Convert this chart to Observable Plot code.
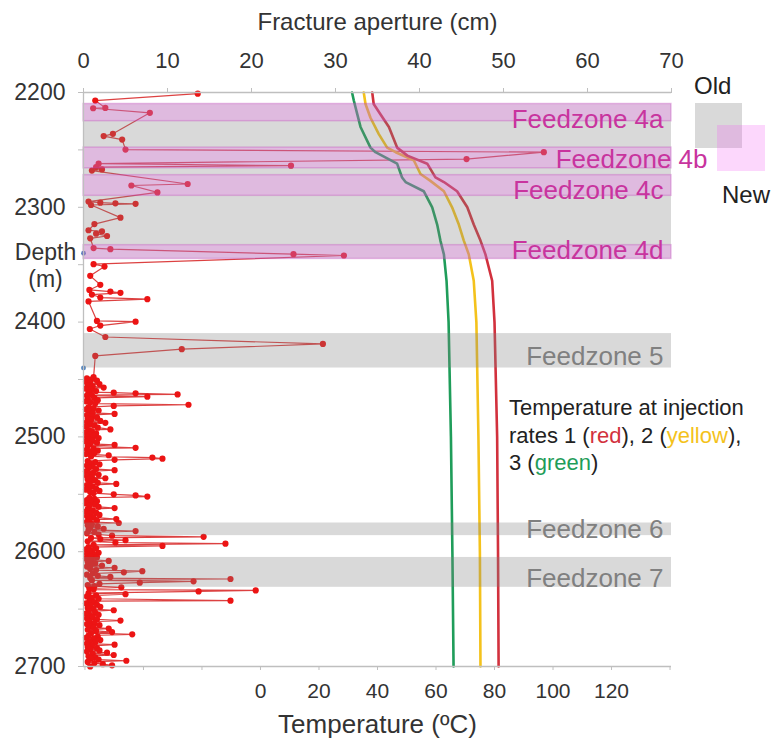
<!DOCTYPE html>
<html><head><meta charset="utf-8">
<script src="https://cdn.jsdelivr.net/npm/d3@7"></script>
<script src="https://cdn.jsdelivr.net/npm/@observablehq/plot@0.6"></script>
<style>body{margin:0;background:#fff}</style>
</head><body><div id="chart"></div>
<script>
// ---------- axes / ticks ----------
const apertureTicks = [0, 10, 20, 30, 40, 50, 60, 70];
const temperatureTicks = [-60, -40, -20, 0, 20, 40, 60, 80, 100, 120, 140];
const temperatureLabels = [0, 20, 40, 60, 80, 100, 120];
const depthTicks = [2200, 2250, 2300, 2350, 2400, 2450, 2500, 2550, 2600, 2650, 2700];
// temperature axis spans these values over the same width as aperture 0..70
const tempAxisMin = -60.5;
const tempAxisMax = 140.5;

// ---------- fracture aperture log: [depth m, aperture cm] ----------
const apertureLog = [
  [2201,13.6],[2207,1.4],[2213.4,2.6],[2213.7,1.15],[2217.7,7.9],[2236,3.5],[2238,2.4],[2241,4.6],[2249.7,5.0],[2252,54.8],
  [2258,45.6],[2262,1.8],[2263.7,24.7],[2265,1.5],[2267,2.2],[2268,1.0],[2279.7,12.4],[2281,5.7],[2287,8.8],[2295,0.6],
  [2296,2.0],[2296.5,3.8],[2297,6.2],[2298,0.9],[2309,4.4],[2314.6,1.3],[2320,0.6],[2321,2.2],[2323,1.5],[2325,2.8],
  [2327,0.8],[2335.5,1.2],[2336.5,3.2],[2340.8,25.0],[2342,31.0],[2349.5,1.2],[2351.6,2.5],[2359.7,0.8],[2367.5,2.0],[2372,0.7],
  [2373.4,3.2],[2374.5,4.4],[2376,1.0],[2378.6,2.0],[2380,7.6],[2382,0.6],[2399,1.6],[2399.6,6.2],[2403,2.0],[2406,0.75],
  [2413,2.6],[2419,28.5],[2423.6,11.7],[2429.5,1.4],
  [2448,1.2],[2449,0.4],[2450,0.9],[2451,1.6],[2452,0.3],[2453,0.8],[2454,1.9],[2455,0.5],[2456,1.1],[2457,2.4],[2458,0.3],
  [2459,0.9],[2460,1.5],[2461,0.6],[2461.5,3.6],[2462,6.2],[2463,11.2],[2463.5,1.0],[2464,0.4],[2465,7.6],[2466,1.3],[2467,0.5],
  [2468,1.7],[2469,0.3],[2470,0.8],[2471,1.4],[2472,12.5],[2473,3.6],[2474,0.6],[2475,1.2],[2476,0.3],[2477,1.8],[2478,0.7],
  [2479,1.1],[2480,3.7],[2481,0.4],[2482,1.0],[2483,1.6],[2484,0.5],[2485,0.9],[2486,2.0],[2487,0.4],[2487.7,2.6],[2489,0.8],
  [2490,1.3],[2491,0.3],[2492,1.7],[2493.5,3.2],[2494,0.6],[2495,1.0],[2496,0.3],[2497,1.5],[2498,0.7],[2499,1.2],[2500,0.4],
  [2501,1.8],[2502,0.6],[2503,1.1],[2504,0.3],[2505,1.6],[2506,0.8],[2507,3.7],[2508,0.5],[2509.5,6.2],[2510,1.2],[2511,0.4],
  [2512,1.7],[2513,0.7],[2514,1.3],[2515,0.3],[2516,3.0],[2517,0.9],[2518,8.2],[2519,9.4],[2520,3.7],[2521,0.5],[2522,1.4],
  [2523,0.8],[2524,1.9],[2525,0.4],[2526,1.1],[2527,0.6],[2528,1.5],[2529,3.7],[2530,0.3],[2531,1.2],[2532,0.7],[2533,1.8],
  [2534,0.4],[2535,1.0],[2536,2.6],[2537,0.5],[2538,1.4],[2539,0.8],[2540,1.7],[2541,3.9],[2542,0.4],[2543,1.1],[2544,0.6],
  [2545,1.5],[2546,0.3],[2547,1.9],[2548,0.8],[2549,1.2],[2550,3.6],[2551,6.2],[2552,7.6],[2553,0.7],[2554,1.3],[2555,0.4],
  [2556,1.6],[2557,0.9],[2558,0.3],[2559,1.4],[2560,0.7],[2561,1.8],[2562,3.7],[2563,0.5],[2564,1.1],[2565,0.3],[2566,1.5],
  [2567,0.8],[2568,1.9],[2569,0.4],[2570,1.2],[2571.6,3.9],[2572,0.7],[2573,1.6],[2574,0.4],[2575,4.2],[2576,1.0],[2577,0.5],
  [2578,1.7],[2579,0.8],[2580,2.4],[2581,0.6],[2582,6.2],[2583,1.3],[2584,0.4],[2585,1.8],[2586,3.4],[2587,14.3],[2588,0.9],
  [2589,2.0],[2590,5.0],[2591,0.5],[2592,3.8],[2593,16.9],[2594,1.2],[2595,9.4],[2596,0.6],[2597,1.5],[2598,0.3],[2599,1.1],
  [2600,0.7],[2601,1.8],[2602,0.4],[2603,1.3],[2604,0.8],[2605,1.6],[2606,0.3],[2607,1.0],[2608,3.0],[2609,0.5],[2610,1.4],
  [2611,0.9],[2612,2.2],[2613,0.4],[2614,3.7],[2615,0.8],[2616,1.5],[2617,7.0],[2618,4.8],[2619,1.1],[2620,0.4],[2621,1.7],
  [2622,3.2],[2623,0.8],[2623.8,17.5],[2625,1.0],[2625.8,13.1],[2627,6.7],[2628,1.9],[2629,0.5],[2630,1.3],[2631,4.5],[2632,0.7],
  [2633,1.2],[2633.7,20.5],[2634.6,13.7],[2636,0.6],[2637,5.0],[2638,1.5],[2639,0.4],[2640,1.0],[2641,1.8],[2642.7,17.5],[2643,0.7],
  [2644,1.3],[2645,0.3],[2646,1.6],[2647,0.8],[2648,2.0],[2649,0.5],[2650,1.2],[2651,3.6],[2652,0.6],[2653,1.4],[2654,0.3],
  [2655,1.8],[2656,0.9],[2657,1.1],[2658,0.4],[2659,1.6],[2660,4.4],[2661,0.7],[2662,1.3],[2663,0.4],[2664,1.9],[2665,0.8],
  [2666,1.2],[2667,3.0],[2668,0.5],[2669,1.5],[2670,3.4],[2671,0.9],[2672,5.8],[2673,0.6],[2674,1.7],[2675,0.3],[2676,1.2],
  [2677,2.0],[2678,0.7],[2679,1.4],[2680,0.4],[2681,3.7],[2682,1.0],[2683,0.5],[2684,1.6],[2685,0.8],[2686,1.9],[2687,0.4],
  [2688,2.8],[2689,1.1],[2690,3.6],[2691,0.6],[2692,1.4],[2693,0.9],[2694,1.8],[2695,5.1],[2696,0.5],[2697,1.3],[2698,2.3],
  [2699,3.4],[2700,0.8]
];
const blueDepth = [2340, 2440];

// ---------- temperature profiles (depth m, °C) ----------
const tempRedDepth = [2200, 2210, 2219, 2230, 2248, 2255, 2262, 2274, 2278, 2286, 2300, 2315, 2329, 2341, 2364, 2400, 2500, 2600, 2700];
const tempRed = [38.2, 38.7, 41.0, 43.9, 46.7, 50.2, 57.0, 59.8, 62.7, 67.2, 70.7, 72.9, 75.2, 76.9, 79.2, 80.0, 80.9, 81.2, 81.4];
const tempYellowDepth = [2200, 2210, 2222, 2236, 2248, 2252, 2259, 2271, 2277, 2286, 2300, 2315, 2329, 2341, 2364, 2400, 2500, 2600, 2700];
const tempYellow = [35.3, 35.9, 37.6, 40.4, 43.3, 46.2, 52.4, 54.7, 58.1, 62.7, 65.5, 67.8, 69.5, 71.2, 72.9, 73.8, 74.5, 75.0, 75.2];
const tempGreenDepth = [2200, 2207, 2219, 2230, 2248, 2252, 2262, 2274, 2278, 2286, 2300, 2315, 2329, 2341, 2364, 2400, 2500, 2600, 2700];
const tempGreen = [31.3, 31.9, 33.1, 34.2, 37.6, 39.3, 46.7, 48.4, 49.6, 55.8, 58.7, 60.4, 61.5, 62.7, 63.6, 64.3, 65.1, 65.6, 66.0];

// ---------- feedzones ----------
const oldZoneName = ["Feedzone 4 (old)", "Feedzone 5", "Feedzone 6", "Feedzone 7"];
const oldZoneTop = [2210, 2410, 2575, 2605];
const oldZoneBottom = [2345, 2440, 2586, 2631];
const newZoneName = ["Feedzone 4a", "Feedzone 4b", "Feedzone 4c", "Feedzone 4d"];
const newZoneTop = [2210, 2248, 2272, 2333];
const newZoneBottom = [2225, 2266, 2290, 2345];
const labelName = ["Feedzone 4a", "Feedzone 4c", "Feedzone 4d", "Feedzone 5", "Feedzone 6", "Feedzone 7"];
const labelDepth = [2224, 2285.5, 2338, 2430, 2581, 2623.5];
const labelNew = [true, true, true, false, false, false];
const label4bName = "Feedzone 4b";
const label4bDepth = 2258.5;

// ---------- build tables ----------
const tempToAp = t => (t - tempAxisMin) / (tempAxisMax - tempAxisMin) * 70;
const apToTemp = a => tempAxisMin + a / 70 * (tempAxisMax - tempAxisMin);
const aperture = apertureLog.map(([d, a]) => ({depth: d, ap: a}));
const temps = [
  ...tempGreenDepth.map((d, i) => ({depth: d, t: tempGreen[i], s: "green"})),
  ...tempYellowDepth.map((d, i) => ({depth: d, t: tempYellow[i], s: "yellow"})),
  ...tempRedDepth.map((d, i) => ({depth: d, t: tempRed[i], s: "red"}))
];
const oldZones = oldZoneName.map((n, i) => ({n, top: oldZoneTop[i], bottom: oldZoneBottom[i]}));
const newZones = newZoneName.map((n, i) => ({n, top: newZoneTop[i], bottom: newZoneBottom[i]}));
const labels = labelName.map((n, i) => ({n, depth: labelDepth[i], isNew: labelNew[i]}));

const FONT = "'Liberation Sans', Arial, sans-serif";
const GRAY_FILL = "#808080", GRAY_OP = 0.3;
const PINK_FILL = "#f458f4", PINK_OP = 0.24;
const MAGENTA = "#c8349e";
const lineColor = {red: "#d2313d", yellow: "#f4c21c", green: "#1f9d5a"};

const plot = Plot.plot({
  width: 774,
  height: 745,
  marginLeft: 83,
  marginRight: 103,
  marginTop: 92,
  marginBottom: 79,
  style: {fontFamily: FONT, background: "#fff", overflow: "visible"},
  x: {domain: [0, 70], type: "linear"},
  y: {domain: [2200, 2700], type: "linear", reverse: true},
  marks: [
    // aperture log
    Plot.line(aperture, {x: "ap", y: "depth", stroke: "#d62020", strokeWidth: 1.2, strokeOpacity: 0.85}),
    Plot.dot(aperture, {x: "ap", y: "depth", r: 3.1, fill: "#ec1414", stroke: "none"}),
    Plot.dot(blueDepth, {x: () => 0, y: d => d, r: 2.4, fill: "#4f81bd"}),
    // temperature profiles
    Plot.line(temps, {x: d => tempToAp(d.t), y: "depth", z: "s", stroke: d => lineColor[d.s], strokeWidth: 2.6}),
    // feedzone bands (drawn on top, translucent)
    Plot.rect(oldZones, {y1: "top", y2: "bottom", fill: GRAY_FILL, fillOpacity: GRAY_OP}),
    Plot.rect(newZones, {y1: "top", y2: "bottom", fill: PINK_FILL, fillOpacity: PINK_OP, stroke: "#c040b8", strokeOpacity: 0.3, strokeWidth: 1.5}),
    // feedzone labels
    Plot.text(labels, {x: () => 70, y: "depth", text: "n", textAnchor: "end", dx: -8, fontSize: 26,
      fill: d => d.isNew ? MAGENTA : "#808080"}),
    Plot.text([label4bDepth], {x: () => 70, y: d => d, text: () => label4bName, textAnchor: "end", dx: 36, fontSize: 26, fill: MAGENTA}),
    // axis lines
    Plot.ruleY([2200, 2700], {stroke: "#bfbfbf", strokeWidth: 1.3}),
    Plot.ruleX([0], {stroke: "#bfbfbf", strokeWidth: 1.3}),
    // top axis: aperture
    Plot.axisX(apertureTicks, {anchor: "top", tickSize: 5, tickPadding: 20, fontSize: 22, label: null, stroke: "#bfbfbf", fill: "#333"}),
    Plot.text(["Fracture aperture (cm)"], {frameAnchor: "top", text: d => d, dy: -80, fontSize: 24, fill: "#333"}),
    // bottom axis: temperature (same x scale, temperature converted to aperture units)
    Plot.axisX(temperatureTicks.map(tempToAp), {anchor: "bottom", tickSize: 4, tickPadding: 13, fontSize: 21, label: null,
      stroke: "#bfbfbf", fill: "#333",
      tickFormat: a => { const t = Math.round(apToTemp(a)); return temperatureLabels.includes(t) ? String(t) : ""; }}),
    Plot.text(["Temperature (ºC)"], {frameAnchor: "bottom", text: d => d, dy: 66, fontSize: 26, fill: "#333"}),
    // left axis: depth
    Plot.axisY(depthTicks, {anchor: "left", tickSize: 5, tickPadding: 13, fontSize: 23, label: null,
      tickFormat: d => d % 100 === 0 ? String(d) : "", stroke: "#bfbfbf", fill: "#333"}),
    Plot.text(["Depth\n(m)"], {frameAnchor: "left", y: () => 2350, text: d => d, textAnchor: "middle", dx: -38, lineHeight: 1.2, fontSize: 23, fill: "#333"})
  ]
});

const svg = d3.select(plot);
// Old / New legend
const lg = svg.append("g").attr("font-family", FONT).attr("font-size", 24).attr("fill", "#222").attr("text-anchor", "start");
lg.append("text").attr("x", 694).attr("y", 94).text("Old");
lg.append("rect").attr("x", 695).attr("y", 103).attr("width", 47).attr("height", 45).attr("fill", GRAY_FILL).attr("fill-opacity", GRAY_OP);
lg.append("rect").attr("x", 717).attr("y", 125).attr("width", 48).attr("height", 46).attr("fill", PINK_FILL).attr("fill-opacity", PINK_OP);
lg.append("text").attr("x", 722).attr("y", 203).text("New");
// temperature note
const note = svg.append("g").attr("font-family", FONT).attr("font-size", 22).attr("fill", "#222").attr("text-anchor", "start");
note.append("text").attr("x", 509).attr("y", 415).text("Temperature at injection");
const l2 = note.append("text").attr("x", 509).attr("y", 443);
l2.append("tspan").text("rates 1 (");
l2.append("tspan").attr("fill", lineColor.red).text("red");
l2.append("tspan").text("), 2 (");
l2.append("tspan").attr("fill", lineColor.yellow).text("yellow");
l2.append("tspan").text("),");
const l3 = note.append("text").attr("x", 509).attr("y", 470);
l3.append("tspan").text("3 (");
l3.append("tspan").attr("fill", lineColor.green).text("green");
l3.append("tspan").text(")");

document.getElementById("chart").appendChild(plot);
</script>
</body></html>
